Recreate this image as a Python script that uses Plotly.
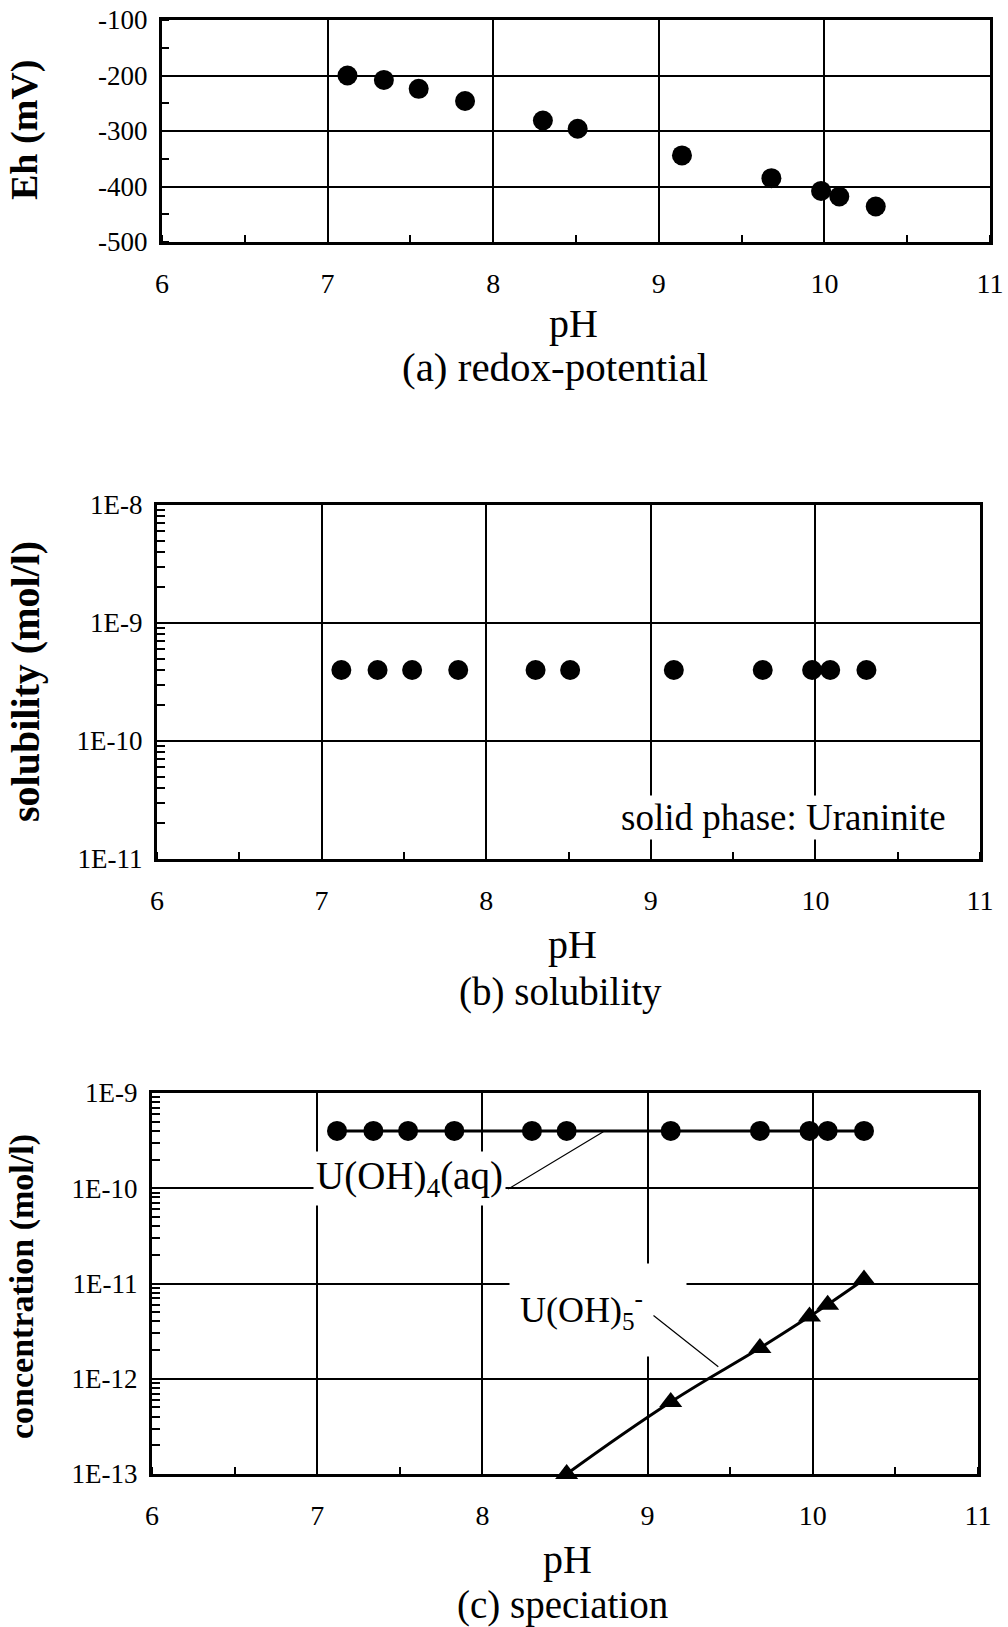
import plotly.graph_objects as go

# ---- data -------------------------------------------------------------
ph = [7.12, 7.34, 7.55, 7.83, 8.30, 8.51, 9.14, 9.68, 9.98, 10.09, 10.31]
eh_mv = [-200, -208, -224, -246, -281, -296, -344, -385, -408, -418, -436]
solubility = [4.0e-10, 4.0e-10, 4.0e-10, 4.0e-10, 4.0e-10, 4.0e-10,
              4.0e-10, 4.0e-10, 4.0e-10, 4.0e-10, 4.0e-10]
u_oh4 = [4.0e-10, 4.0e-10, 4.0e-10, 4.0e-10, 4.0e-10, 4.0e-10,
         4.0e-10, 4.0e-10, 4.0e-10, 4.0e-10, 4.0e-10]
ph_oh5 = [8.51, 9.14, 9.68, 9.98, 10.09, 10.31]
u_oh5 = [1.0e-13, 5.7e-13, 2.1e-12, 4.5e-12, 6.0e-12, 1.1e-11]

ph_ticks = [6, 7, 8, 9, 10, 11]
eh_ticks = [-500, -400, -300, -200, -100]
sol_ticks = [1e-11, 1e-10, 1e-9, 1e-8]
sol_ticktext = ["1E-11", "1E-10", "1E-9", "1E-8"]
conc_ticks = [1e-13, 1e-12, 1e-11, 1e-10, 1e-9]
conc_ticktext = ["1E-13", "1E-12", "1E-11", "1E-10", "1E-9"]

FONT = "Liberation Serif"
BLACK = "black"
TICK_SIZE = 27


def log_minor(lo, hi):
    return [m * 10.0 ** e for e in range(lo, hi) for m in range(2, 10)]


def x_axis(domain, anchor):
    return dict(
        domain=domain, anchor=anchor, range=[6, 11], automargin=False,
        tickvals=ph_ticks, ticktext=[str(v) for v in ph_ticks],
        ticks="", ticklabelstandoff=14,
        tickfont=dict(family=FONT, size=TICK_SIZE + 1, color=BLACK),
        showgrid=True, gridcolor=BLACK, gridwidth=1.5,
        showline=True, linecolor=BLACK, linewidth=3, mirror=True,
        zeroline=False,
        minor=dict(ticks="inside", dtick=0.5, tick0=6, ticklen=7,
                   tickwidth=1.5, tickcolor=BLACK, showgrid=False),
    )


def y_axis(domain, anchor, **kw):
    base = dict(
        domain=domain, anchor=anchor, automargin=False,
        ticks="", ticklabelstandoff=6,
        tickfont=dict(family=FONT, size=TICK_SIZE, color=BLACK),
        showgrid=True, gridcolor=BLACK, gridwidth=1.5,
        showline=True, linecolor=BLACK, linewidth=3, mirror=True,
        zeroline=False,
    )
    base.update(kw)
    return base


fig = go.Figure()

# (a) redox potential
fig.add_trace(go.Scatter(
    x=ph, y=eh_mv, mode="markers", xaxis="x", yaxis="y",
    marker=dict(symbol="circle", size=20, color=BLACK),
    cliponaxis=False, showlegend=False))

# (b) solubility
fig.add_trace(go.Scatter(
    x=ph, y=solubility, mode="markers", xaxis="x2", yaxis="y2",
    marker=dict(symbol="circle", size=20, color=BLACK),
    cliponaxis=False, showlegend=False))

# (c) speciation
fig.add_trace(go.Scatter(
    x=ph, y=u_oh4, mode="lines+markers", xaxis="x3", yaxis="y3",
    line=dict(color=BLACK, width=3),
    marker=dict(symbol="circle", size=20, color=BLACK),
    cliponaxis=False, showlegend=False))
fig.add_trace(go.Scatter(
    x=ph_oh5, y=u_oh5, mode="lines+markers", xaxis="x3", yaxis="y3",
    line=dict(color=BLACK, width=3, shape="spline", smoothing=1.3),
    marker=dict(symbol="triangle-up", size=20, color=BLACK),
    cliponaxis=False, showlegend=False))

W, H = 1008, 1627


def px(xp, yp):
    return xp / W, 1 - yp / H


layout = dict(
    width=W, height=H, autosize=False,
    margin=dict(l=0, r=0, t=0, b=0, pad=0),
    paper_bgcolor="white", plot_bgcolor="white",
    font=dict(family=FONT, color=BLACK),
    xaxis=x_axis([162 / W, 990 / W], "y"),
    yaxis=y_axis([1 - 242 / H, 1 - 20 / H], "x",
                 range=[-500, -100], tickvals=eh_ticks,
                 ticktext=[str(v) for v in eh_ticks],
                 minor=dict(ticks="inside", dtick=50, tick0=-500, ticklen=7,
                            tickwidth=1.5, tickcolor=BLACK, showgrid=False)),
    xaxis2=x_axis([157 / W, 980 / W], "y2"),
    yaxis2=y_axis([1 - 859 / H, 1 - 505 / H], "x2",
                  type="log", range=[-11, -8], tickvals=sol_ticks,
                  ticktext=sol_ticktext,
                  minor=dict(ticks="inside", tickvals=log_minor(-11, -8),
                             ticklen=8, tickwidth=1.5, tickcolor=BLACK,
                             showgrid=False)),
    xaxis3=x_axis([152 / W, 978 / W], "y3"),
    yaxis3=y_axis([1 - 1474 / H, 1 - 1093 / H], "x3",
                  type="log", range=[-13, -9], tickvals=conc_ticks,
                  ticktext=conc_ticktext,
                  minor=dict(ticks="inside", tickvals=log_minor(-13, -9),
                             ticklen=8, tickwidth=1.5, tickcolor=BLACK,
                             showgrid=False)),
)
fig.update_layout(**layout)

annotations = []


def text(xp, yp, s, size, **kw):
    x, y = px(xp, yp)
    d = dict(x=x, y=y, xref="paper", yref="paper", text=s, showarrow=False,
             font=dict(family=FONT, size=size, color=BLACK),
             xanchor="center", yanchor="middle")
    d.update(kw)
    annotations.append(d)


def leader(x_tail, y_tail, x_head, y_head):
    # plain line drawn on top of the label backing
    x, y = px(x_head, y_head)
    annotations.append(dict(
        x=x, y=y, xref="paper", yref="paper", text="",
        showarrow=True, arrowhead=0, arrowwidth=1.2, arrowcolor=BLACK,
        ax=x_tail - x_head, ay=y_tail - y_head,
        standoff=0, startstandoff=0))


# axis titles and captions
text(573, 323, "pH", 40)
text(555, 367, "(a) redox-potential", 41)
text(24, 130, "<b>Eh (mV)</b>", 38, textangle=-90)

text(572, 944, "pH", 40)
text(560, 992, "(b) solubility", 39)
text(25, 682, "<b>solubility (mol/l)</b>", 40, textangle=-90)
text(948, 817, "solid phase: Uraninite", 37, xanchor="right",
     bgcolor="white", borderpad=1)

text(567, 1559, "pH", 40)
text(562, 1605, "(c) speciation", 39)
text(22, 1287, "<b>concentration (mol/l)</b>", 34, textangle=-90)

# species labels with white backing
text(313, 1178, "U(OH)<sub>4</sub>(aq)", 39, xanchor="left",
     bgcolor="white", borderpad=2)
text(509, 1310, "U(OH)<sub>5</sub><sup>-</sup>", 36, xanchor="left",
     align="left", width=156, height=72,
     bgcolor="white", borderpad=10)

# leader lines from the species labels to their curves
leader(506.7, 1190, 603.3, 1131.7)
leader(652, 1314.3, 718.3, 1366.7)

fig.update_layout(annotations=annotations)

fig.write_html("out.html")
